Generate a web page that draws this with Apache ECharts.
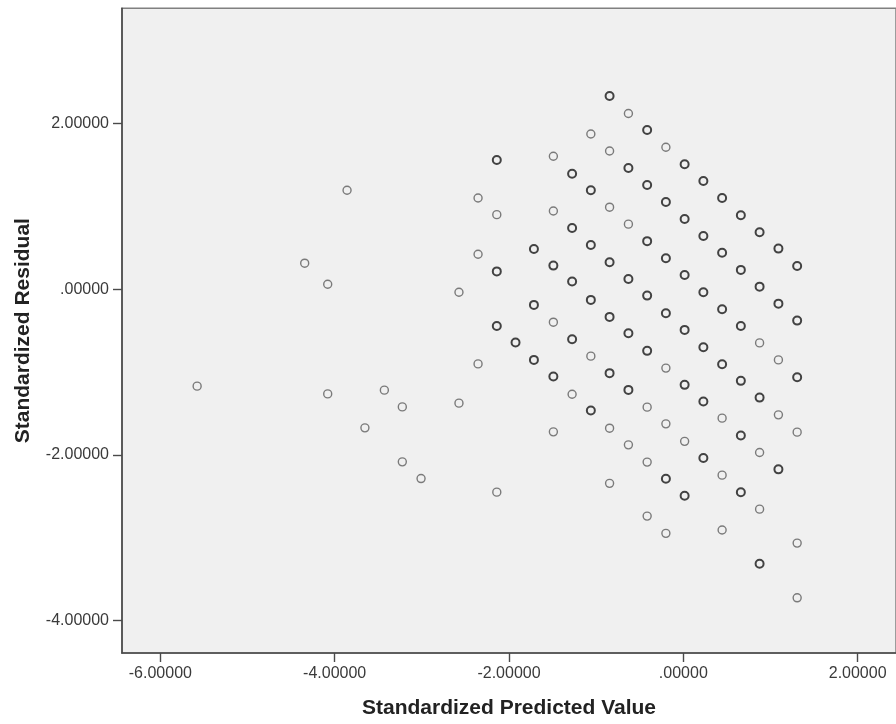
<!DOCTYPE html>
<html>
<head>
<meta charset="utf-8">
<script src="https://cdn.jsdelivr.net/npm/echarts@6/dist/echarts.min.js"></script>
<style>
html,body{margin:0;padding:0;background:#fff;}
#c{width:896px;height:724px;}
</style>
</head>
<body>
<div id="c"></div>
<script>
// Standardized Predicted Value (x)
var predicted = [
  -5.578, -4.344, -4.080, -4.080, -3.858, -3.653, -3.430, -3.224, -3.224, -3.009,
  -2.574, -2.574, -2.355, -2.355, -2.355, -2.140, -2.140, -2.140, -2.140, -2.140,
  -1.925, -1.714, -1.714, -1.714,
  -1.491, -1.491, -1.491, -1.491, -1.491, -1.491,
  -1.276, -1.276, -1.276, -1.276, -1.276,
  -1.061, -1.061, -1.061, -1.061, -1.061, -1.061,
  -0.846, -0.846, -0.846, -0.846, -0.846, -0.846, -0.846, -0.846,
  -0.630, -0.630, -0.630, -0.630, -0.630, -0.630, -0.630,
  -0.415, -0.415, -0.415, -0.415, -0.415, -0.415, -0.415, -0.415,
  -0.200, -0.200, -0.200, -0.200, -0.200, -0.200, -0.200, -0.200,
  0.015, 0.015, 0.015, 0.015, 0.015, 0.015, 0.015,
  0.230, 0.230, 0.230, 0.230, 0.230, 0.230,
  0.445, 0.445, 0.445, 0.445, 0.445, 0.445, 0.445,
  0.660, 0.660, 0.660, 0.660, 0.660, 0.660,
  0.875, 0.875, 0.875, 0.875, 0.875, 0.875, 0.875,
  1.091, 1.091, 1.091, 1.091, 1.091,
  1.306, 1.306, 1.306, 1.306, 1.306, 1.306
];
// Standardized Residual (y)
var residual = [
  -1.170, 0.314, 0.060, -1.263, 1.194, -1.673, -1.218, -1.420, -2.083, -2.285,
  -0.036, -1.375, 1.101, 0.422, -0.901, 1.560, 0.900, 0.215, -0.443, -2.449,
  -0.644, 0.486, -0.189, -0.853,
  1.604, 0.944, 0.285, -0.398, -1.054, -1.721,
  1.394, 0.739, 0.094, -0.603, -1.267,
  1.873, 1.194, 0.534, -0.129, -0.808, -1.464,
  2.332, 1.668, 0.990, 0.326, -0.334, -1.013, -1.677, -2.343,
  2.120, 1.463, 0.785, 0.124, -0.531, -1.215, -1.878,
  1.922, 1.258, 0.580, -0.077, -0.744, -1.423, -2.086, -2.738,
  1.713, 1.053, 0.374, -0.290, -0.952, -1.625, -2.288, -2.946,
  1.508, 0.848, 0.172, -0.491, -1.154, -1.836, -2.493,
  1.305, 0.643, -0.036, -0.700, -1.356, -2.037,
  1.100, 0.441, -0.241, -0.905, -1.556, -2.244, -2.906,
  0.893, 0.233, -0.443, -1.106, -1.766, -2.451,
  0.688, 0.031, -0.648, -1.308, -1.971, -2.654, -3.314,
  0.490, -0.174, -0.853, -1.516, -2.174,
  0.281, -0.379, -1.062, -1.725, -3.064, -3.724
];
// overlap count (1 = single case, 2 = overlapping cases)
var overlap = [
  1, 1, 1, 1, 1, 1, 1, 1, 1, 1,
  1, 1, 1, 1, 1, 2, 1, 2, 2, 1,
  2, 2, 2, 2,
  1, 1, 2, 1, 2, 1,
  2, 2, 2, 2, 1,
  1, 2, 2, 2, 1, 2,
  2, 1, 1, 2, 2, 2, 1, 1,
  1, 2, 1, 2, 2, 2, 1,
  2, 2, 2, 2, 2, 1, 1, 1,
  1, 2, 2, 2, 1, 1, 2, 1,
  2, 2, 2, 2, 2, 1, 2,
  2, 2, 2, 2, 2, 2,
  2, 2, 2, 2, 1, 1, 1,
  2, 2, 2, 2, 2, 2,
  2, 2, 1, 2, 1, 1, 2,
  2, 2, 1, 1, 2,
  2, 2, 2, 1, 1, 1
];
var xTicks = [-6, -4, -2, 0, 2];
var yTicks = [-4, -2, 0, 2];
var xTitle = 'Standardized Predicted Value';
var yTitle = 'Standardized Residual';

function fmt(v) {
  var s = Number(v).toFixed(5);
  if (s === '0.00000' || s === '-0.00000') return '.00000';
  return s;
}

var points = predicted.map(function (x, i) {
  var bold = overlap[i] > 1;
  return {
    value: [x, residual[i]],
    itemStyle: {
      color: 'rgba(0,0,0,0)',
      borderColor: bold ? '#161616' : '#5c5c5c',
      borderWidth: bold ? 2 : 1.4
    }
  };
});

var font = '"Liberation Sans", Arial, sans-serif';
var chart = echarts.init(document.getElementById('c'), null, {renderer: 'canvas'});
chart.setOption({
  backgroundColor: '#ffffff',
  animation: false,
  grid: {
    left: 122, right: -10.2, top: 8.3, bottom: 70.7,
    show: true, backgroundColor: '#f0f0f0',
    borderColor: '#808080', borderWidth: 1.5
  },
  xAxis: {
    type: 'value', min: -6.44, max: 2.44,
    name: xTitle, nameLocation: 'middle', nameGap: 45,
    nameTextStyle: {fontFamily: font, fontWeight: 'bold', fontSize: 21, color: '#222'},
    axisLine: {show: true, onZero: false, lineStyle: {color: '#4a4a4a', width: 1.6}},
    axisTick: {show: true, customValues: xTicks, length: 9, lineStyle: {color: '#4a4a4a', width: 1.4}},
    axisLabel: {show: true, customValues: xTicks, formatter: fmt, margin: 13,
      fontFamily: font, fontSize: 16, color: '#3a3a3a'},
    splitLine: {show: false}
  },
  yAxis: {
    type: 'value', min: -4.39, max: 3.39,
    name: yTitle, nameLocation: 'middle', nameGap: 88, nameRotate: 90,
    nameTextStyle: {fontFamily: font, fontWeight: 'bold', fontSize: 21, color: '#222'},
    axisLine: {show: true, onZero: false, lineStyle: {color: '#4a4a4a', width: 1.6}},
    axisTick: {show: true, customValues: yTicks, length: 9, lineStyle: {color: '#4a4a4a', width: 1.4}},
    axisLabel: {show: true, customValues: yTicks, formatter: fmt, margin: 13,
      fontFamily: font, fontSize: 16, color: '#3a3a3a'},
    splitLine: {show: false}
  },
  series: [{
    type: 'scatter',
    symbol: 'circle',
    symbolSize: 8,
    data: points,
    emphasis: {disabled: true}
  }]
});
</script>
</body>
</html>
